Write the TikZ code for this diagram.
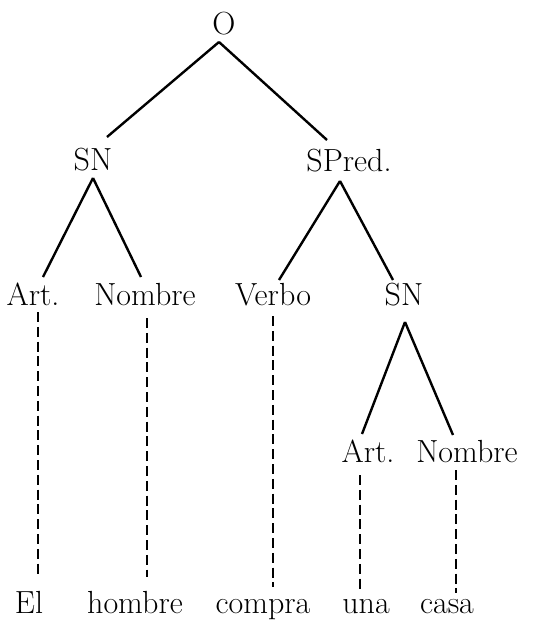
\documentclass[tikz,border=0pt]{standalone}
\usetikzlibrary{calc}

\tikzset{
	cat/.style={anchor=base, inner sep=0pt, font=\fontsize{16}{19}\selectfont},
	branch/.style={line width=1.2pt},
	lex/.style={line width=0.8pt, dash pattern=on 5pt off 2.4pt}
}

\begin{document}
\begin{tikzpicture}[x=0.5pt,y=-0.5pt]
		\useasboundingbox (0,0) rectangle (558,621);
		
		%upper tree
		\node[cat] (O) at (224,34) {O};
		\node[cat] (SNa) at (93,170) {SN};
		\node[cat] (SPred) at (349,171) {SPred.};
		\draw[branch] ([shift={(-5,8)}]O.base) -- ([shift={(14,-33)}]SNa.base);
		\draw[branch] ([shift={(-5,8)}]O.base) -- ([shift={(-22,-31)}]SPred.base);
		
		\node[cat] (Arta) at (33,305) {Art.};
		\node[cat] (Nombrea) at (145,305) {Nombre};
		\node[cat] (Verbo) at (273,305) {Verbo};
		\node[cat] (SNb) at (404,305) {SN};
		\draw[branch] ([shift={(0,8)}]SNa.base) -- ([shift={(10,-28)}]Arta.base);
		\draw[branch] ([shift={(0,8)}]SNa.base) -- ([shift={(-4,-28)}]Nombrea.base);
		\draw[branch] ([shift={(-9,10)}]SPred.base) -- ([shift={(6,-25)}]Verbo.base);
		\draw[branch] ([shift={(-9,10)}]SPred.base) -- ([shift={(-11,-25)}]SNb.base);
		
		\node[cat] (Artb) at (368,462) {Art.};
		\node[cat] (Nombreb) at (467,462) {Nombre};
		\draw[branch] ([shift={(1,17)}]SNb.base) -- ([shift={(-6,-28)}]Artb.base);
		\draw[branch] ([shift={(1,17)}]SNb.base) -- ([shift={(-14,-27)}]Nombreb.base);
		
		%words
		\node[cat] (el) at (29,613) {El};
		\node[cat] (hombre) at (135,613) {hombre};
		\node[cat] (compra) at (263,613) {compra};
		\node[cat] (una) at (366,613) {una};
		\node[cat] (casa) at (447,613) {casa};
		
		%dashed lines down to the words
		\draw[lex] ([shift={(5,7)}]Arta.base) -- ([shift={(9,-36)}]el.base);
		\draw[lex] ([shift={(2,13)}]Nombrea.base) -- ([shift={(12,-36)}]hombre.base);
		\draw[lex] ([shift={(0,11)}]Verbo.base) -- ([shift={(10,-26)}]compra.base);
		\draw[lex] ([shift={(-8,13)}]Artb.base) -- ([shift={(-6,-23)}]una.base);
		\draw[lex] ([shift={(-11,8)}]Nombreb.base) -- ([shift={(9,-20)}]casa.base);
		
	\end{tikzpicture}
\end{document}
